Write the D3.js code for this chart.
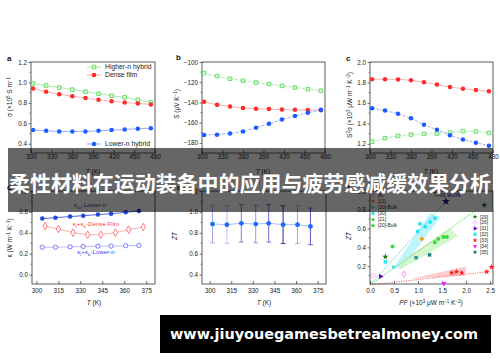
<!DOCTYPE html>
<html><head><meta charset="utf-8">
<script src="https://cdn.jsdelivr.net/npm/d3@7"></script>
<style>body{margin:0;background:#fff}svg{display:block}</style>
</head><body><svg id="c" width="500" height="362"></svg>
<script>
// ---------- data ----------
const tempsTop = [303,322,341,360,379,398,417,436,455,474];
const sigmaHigher = [0.99,0.97,0.95,0.93,0.91,0.89,0.87,0.855,0.83,0.805];
const sigmaDense = [0.94,0.91,0.885,0.865,0.848,0.83,0.815,0.805,0.795,0.785];
const sigmaLower = [0.534,0.527,0.52,0.52,0.52,0.527,0.534,0.54,0.547,0.553];
const seebeckHigher = [-111,-114,-116.5,-118.5,-120.3,-121.7,-123.6,-125.2,-126.9,-128.3];
const seebeckDense = [-139.4,-142.4,-144,-145.6,-146.3,-146.6,-147,-147.3,-147.6,-147.6];
const seebeckLower = [-172.2,-171.9,-170.6,-168.7,-165,-161.1,-156.8,-153.5,-150.2,-147.3];
const pfHigher = [1.221,1.254,1.277,1.29,1.297,1.3,1.31,1.324,1.32,1.307];
const pfDense = [1.832,1.832,1.829,1.822,1.802,1.779,1.755,1.739,1.726,1.713];
const pfLower = [1.548,1.525,1.495,1.449,1.386,1.337,1.284,1.241,1.211,1.181];

const tempsKappa = [304,313,323,332,342,351,361,370];
const tempsKappaDense = [306,315,325,335,344,354,363,373];
const kappaLat = [0.536,0.545,0.555,0.564,0.574,0.583,0.596,0.609];
const kappaDense = [0.464,0.436,0.401,0.382,0.382,0.401,0.43,0.455];
const kappaLower = [0.262,0.262,0.266,0.269,0.272,0.272,0.276,0.279];

const tempsZT = [302,312,322,332,341,351,361,370];
const ztValues = [0.884,0.878,0.891,0.884,0.891,0.878,0.878,0.861];
const ztErrors = [0.18,0.18,0.18,0.18,0.18,0.18,0.18,0.175];

const refLabels = ['[4]','[8]','[11]','[30]-Bulk','[30]','[21]','[20]-Bulk','[29]','[26]','[31]','[32]','[33]','[34]','[35]'];
const refPF = [[0.96],[0.71],[1.08],[0.49],[0.32,0.99,1.04,1.15,1.25,1.35],[0.47,1.35,1.42,1.53,1.6],[],[0.32,2.38],[0.07],[0.22],[],[1.7,1.8,1.91,2.43,2.53],[1.54],[1.24]];
const refZT = [[0.29],[0.115],[0.49],[0.19],[0.245,0.57,0.65,0.62,0.67,0.71],[0.41,0.455,0.49,0.51,0.51],[],[0.30,0.85],[0.10],[0.09],[],[0.13,0.14,0.13,0.14,0.19],[0.015],[0.32]];
const thisWorkPF = [1.58];
const thisWorkZT = [0.89];
const bandCyan = [[0.5,0.19],[0.66,0.17],[1.46,0.72],[1.25,0.76]];
const bandGreen = [[0.59,0.23],[1.67,0.6],[1.84,0.52],[0.66,0.17]];
const bandRed = [[0.85,0.065],[2.01,0.2],[1.98,0.1]];
const trendCyan = [[0,0],[1.58,0.89]];
const trendGreen = [[0,0],[2.22,0.8]];
const trendRed = [[0,0],[2.45,0.14]];

const xTicksTop = [300,330,360,390,420,450,480];
const xTicksBottom = [300,315,330,345,360,375];
const xTicksPF = [0,0.5,1,1.5,2,2.5];
const yTicksA = [0.4,0.6,0.8,1.0,1.2];
const yTicksB = [-180,-160,-140,-120,-100];
const yTicksC = [1.2,1.4,1.6,1.8,2.0];
const yTicksD = [0.0,0.2,0.4,0.6,0.8];
const yTicksE = [0.4,0.6,0.8,1.0,1.2];
const yTicksF = [0.2,0.4,0.6,0.8,1.0];

const titleText = '柔性材料在运动装备中的应用与疲劳感减缓效果分析';
const watermarkText = 'www.jiuyouegamesbetrealmoney.com';

// ---------- styles ----------
const FONT = '"Liberation Sans", Arial, sans-serif';
const C_GREEN = '#3fd23f', C_GREEN_L = '#8fe88f';
const C_RED = '#ff2a2a', C_RED_L = '#ff9a9a';
const C_BLUE = '#1a5cff', C_BLUE_L = '#7d95ff';
const refColors = ['#1f9b9b','#ff66ff','#ff9900','#66ddee','#22e5f5','#33dd33','#22cc22','#1a7a1a','#ff88ff','#6a00d0','#00e5ff','#ff2222','#ff22ff','#1a8080'];
const refShapes = ['square','diamond','circle','square','square','circle','star','star','circleOpen','triR','star','star','triD','square'];
const errColors = ['#9a9ae4','#b8b8f0','#6f6fd0','#8c8cdc','#5a5ac6','#141490','#a0a0e6','#4646bc'];

const svg = d3.select('#c');

function scales(b){
  return {x: d3.scaleLinear().domain(b.xd).range([b.x0,b.x1]),
          y: d3.scaleLinear().domain(b.yd).range([b.y1,b.y0])};
}
function axes(b, s, xt, yt, xf, yf, pad){
  const g = svg.append('g');
  const ax = g.append('g').attr('transform',`translate(0,${b.y1})`)
    .call(d3.axisBottom(s.x).tickValues(xt).tickFormat(xf).tickSize(-3).tickPadding(pad));
  const ay = g.append('g').attr('transform',`translate(${b.x0},0)`)
    .call(d3.axisLeft(s.y).tickValues(yt).tickFormat(yf).tickSize(2.5).tickPadding(1.5));
  [ax,ay].forEach(a=>{
    a.select('.domain').remove();
    a.selectAll('line').attr('stroke','#333').attr('stroke-width',0.7);
    a.selectAll('text').attr('font-size','6.3px').attr('fill','#222').attr('font-family',FONT);
  });
  // minor y ticks
  const yd = s.y.domain(); const step = (yt[1]-yt[0])/2;
  const minors = d3.range(yt[0]-step, yd[1]+1e-9, step).filter(v=>v>=Math.min(...yd) && !yt.some(t=>Math.abs(t-v)<1e-9));
  g.selectAll('.mn').data(minors).join('line')
    .attr('x1',b.x0-1.5).attr('x2',b.x0).attr('y1',d=>s.y(d)).attr('y2',d=>s.y(d))
    .attr('stroke','#333').attr('stroke-width',0.6);
  g.append('rect').attr('x',b.x0).attr('y',b.y0).attr('width',b.x1-b.x0).attr('height',b.y1-b.y0)
    .attr('fill','none').attr('stroke','#333').attr('stroke-width',0.8);
}
function ytitle(x,y,parts){
  const t = svg.append('text').attr('transform',`translate(${x},${y}) rotate(-90)`)
    .attr('text-anchor','middle').attr('font-family',FONT).attr('font-size','6.5px').attr('fill','#222');
  parts.forEach(p=>{
    const ts = t.append('tspan').text(p[0]);
    if(p[1]==='sup') ts.attr('font-size','4.5px').attr('dy','-2.5');
    else if(p[1]==='back') ts.attr('dy','2.5');
    else if(p[1]==='it') ts.attr('font-style','italic');
  });
}
function xtitle(x,y,parts){
  const t = svg.append('text').attr('x',x).attr('y',y).attr('text-anchor','middle')
    .attr('font-family',FONT).attr('font-size','6.5px').attr('fill','#222');
  parts.forEach(p=>{
    const ts = t.append('tspan').text(p[0]);
    if(p[1]==='sup') ts.attr('font-size','4.5px').attr('dy','-2.5');
    else if(p[1]==='back') ts.attr('dy','2.5');
    else if(p[1]==='it') ts.attr('font-style','italic');
  });
}
function letter(x,y,t){
  svg.append('text').attr('x',x).attr('y',y).text(t).attr('font-family',FONT)
    .attr('font-weight','bold').attr('font-size','8px').attr('fill','#111');
}
function marker(g, type, color, size){
  const sym = {square:d3.symbolSquare, circle:d3.symbolCircle, star:d3.symbolStar,
    diamond:d3.symbolDiamond, circleOpen:d3.symbolCircle, triR:d3.symbolTriangle, triD:d3.symbolTriangle}[type];
  const p = g.append('path').attr('d', d3.symbol().type(sym).size(size)());
  if(type==='triR') p.attr('transform','rotate(90)');
  if(type==='triD') p.attr('transform','rotate(180)');
  return p;
}
function series(s, xs, ys, opt){
  const pts = xs.map((t,i)=>[t,ys[i]]);
  svg.append('path').datum(pts).attr('fill','none').attr('stroke',opt.line).attr('stroke-width',opt.lw||0.8)
    .attr('stroke-dasharray',opt.dash||null)
    .attr('d',d3.line().x(d=>s.x(d[0])).y(d=>s.y(d[1])));
  const g = svg.append('g');
  pts.forEach(d=>{
    const m = g.append('g').attr('transform',`translate(${s.x(d[0])},${s.y(d[1])})`);
    const p = marker(m, opt.shape, opt.color, opt.size||14);
    if(opt.open) p.attr('fill', opt.fillc||'#fff').attr('stroke',opt.color).attr('stroke-width',0.7);
    else p.attr('fill',opt.color);
  });
}
function legendItem(x,y,opt,label){
  svg.append('line').attr('x1',x).attr('x2',x+14).attr('y1',y).attr('y2',y).attr('stroke',opt.line).attr('stroke-width',0.9);
  const m = svg.append('g').attr('transform',`translate(${x+7},${y})`);
  const p = marker(m,opt.shape,opt.color,opt.size||14);
  if(opt.open) p.attr('fill',opt.fillc||'#fff').attr('stroke',opt.color).attr('stroke-width',0.7); else p.attr('fill',opt.color);
  svg.append('text').attr('x',x+18).attr('y',y+2.3).text(label).attr('font-family',FONT)
    .attr('font-size','6.8px').attr('fill','#222');
}

const sGreen = {line:C_GREEN_L, color:C_GREEN, shape:'square', open:true, fillc:'#d8f8d8', size:13};
const sRed = {line:C_RED_L, color:C_RED, shape:'circle', size:16};
const sBlue = {line:C_BLUE_L, color:C_BLUE, shape:'circle', size:16};

// ---------- panel a ----------
const bA = {x0:31,x1:155,y0:62,y1:153,xd:[300,480],yd:[0.31,1.2]};
const sA = scales(bA);
axes(bA,sA,xTicksTop,yTicksA,d3.format('d'),d3.format('.1f'),1.5);
series(sA,tempsTop,sigmaHigher,sGreen);
series(sA,tempsTop,sigmaDense,sRed);
series(sA,tempsTop,sigmaLower,sBlue);
legendItem(87,67,sGreen,'Higher-n hybrid');
legendItem(87,75,sRed,'Dense film');
legendItem(87,144,sBlue,'Lower-n hybrid');
letter(7,61,'a');
ytitle(12,97,[['σ (×10'],['5','sup'],[' S m','back'],['−1','sup']]);
xtitle(93,174,[['T','it'],[' (K)']]);

// ---------- panel b ----------
const bB = {x0:202,x1:325,y0:62,y1:153,xd:[300,480],yd:[-190,-100]};
const sB = scales(bB);
axes(bB,sB,xTicksTop,yTicksB,d3.format('d'),d3.format('d'),1.5);
series(sB,tempsTop,seebeckHigher,Object.assign({},sGreen,{dash:'3,1.5'}));
series(sB,tempsTop,seebeckDense,sRed);
series(sB,tempsTop,seebeckLower,Object.assign({},sBlue,{dash:'3,1.5'}));
letter(176,60,'b');
ytitle(179,104,[['S','it'],[' (μV K'],['−1','sup'],[')','back']]);
xtitle(263,174,[['T','it'],[' (K)']]);

// ---------- panel c ----------
const bC = {x0:370,x1:493,y0:62,y1:153,xd:[300,480],yd:[1.11,2.0]};
const sC = scales(bC);
axes(bC,sC,xTicksTop,yTicksC,d3.format('d'),d3.format('.1f'),1.5);
series(sC,tempsTop,pfHigher,Object.assign({},sGreen,{dash:'3,1.5'}));
series(sC,tempsTop,pfDense,sRed);
series(sC,tempsTop,pfLower,Object.assign({},sBlue,{dash:'3,1.5'}));
letter(346,61,'c');
ytitle(352,105,[['S'],['2','sup'],['σ (×10','back'],['3','sup'],[' μW m','back'],['−1','sup'],[' K','back'],['−2','sup'],[')','back']]);
xtitle(431,174,[['T','it'],[' (K)']]);

// ---------- panel d ----------
const bD = {x0:32,x1:155,y0:191,y1:284,xd:[297,381],yd:[-0.09,0.8]};
const sD = scales(bD);
axes(bD,sD,xTicksBottom,yTicksD,d3.format('d'),d3.format('.1f'),5);
series(sD,tempsKappa,kappaLat,{line:'#2a3fc0',color:'#1f48e0',shape:'circle',size:16});
series(sD,tempsKappaDense,kappaDense,{line:C_RED_L,color:'#ff4040',shape:'diamond',open:true,size:16});
series(sD,tempsKappa,kappaLower,{line:'#a8a8ff',color:'#4444ff',shape:'circle',open:true,size:14});
function kLabel(x,y,color,parts){
  const t = svg.append('text').attr('x',x).attr('y',y).attr('text-anchor','middle')
    .attr('font-family',FONT).attr('font-size','6.2px').attr('fill',color);
  parts.forEach(p=>{const ts=t.append('tspan').text(p[0]);
    if(p[1]==='sub') ts.attr('font-size','4.3px').attr('dy','1.5');
    else if(p[1]==='back') ts.attr('dy','-1.5');});
}
kLabel(90,207,'#2a3fb0',[['κ'],['lat','sub'],['-Lower-n','back']]);
kLabel(96,226,'#ff4040',[['κ'],['l','sub'],['+κ','back'],['b','sub'],['-Dense Film','back']]);
kLabel(96,254,'#4444ff',[['κ'],['l','sub'],['+κ','back'],['b','sub'],['-Lower-n','back']]);
letter(7,190,'d');
ytitle(12,238,[['κ (W m'],['−1','sup'],[' K','back'],['−1','sup'],[')','back']]);
xtitle(94,305,[['T','it'],[' (K)']]);

// ---------- panel e ----------
const bE = {x0:202,x1:326,y0:191,y1:284,xd:[294.7,380.8],yd:[0.31,1.2]};
const sE = scales(bE);
axes(bE,sE,xTicksBottom,yTicksE,d3.format('d'),d3.format('.1f'),5);
const gErr = svg.append('g');
tempsZT.forEach((t,i)=>{
  const x = sE.x(t), yT = sE.y(ztValues[i]+ztErrors[i]), yB = sE.y(ztValues[i]-ztErrors[i]);
  gErr.append('line').attr('x1',x).attr('x2',x).attr('y1',yT).attr('y2',yB).attr('stroke',errColors[i]).attr('stroke-width',0.9);
  [yT,yB].forEach(yy=>gErr.append('line').attr('x1',x-2.5).attr('x2',x+2.5).attr('y1',yy).attr('y2',yy).attr('stroke',errColors[i]).attr('stroke-width',0.8));
});
series(sE,tempsZT,ztValues,{line:'#8fb0ff',color:'#1a6cff',shape:'circle',size:18});
letter(177,190,'e');
ytitle(177,236,[['ZT','it']]);
xtitle(264,305,[['T','it'],[' (K)']]);

// ---------- panel f ----------
const bF = {x0:370,x1:493,y0:191,y1:284,xd:[0,2.56],yd:[0.01,1.0]};
const sF = scales(bF);
const polyLine = d3.line().x(d=>sF.x(d[0])).y(d=>sF.y(d[1]));
svg.append('path').datum(bandCyan).attr('d',polyLine.curve(d3.curveLinearClosed)).attr('fill','#aef3fb').attr('opacity',0.8);
svg.append('path').datum(bandGreen).attr('d',polyLine.curve(d3.curveLinearClosed)).attr('fill','#c9f5c0').attr('opacity',0.8);
svg.append('path').datum(bandRed).attr('d',polyLine.curve(d3.curveLinearClosed)).attr('fill','#ffc4c4').attr('opacity',0.85);
const lineF = d3.line().x(d=>sF.x(d[0])).y(d=>sF.y(d[1]));
[[trendCyan,'#22b8c8'],[trendGreen,'#33cc33'],[trendRed,'#ff4444']].forEach(([d,c])=>{
  svg.append('path').datum(d).attr('d',lineF).attr('stroke',c).attr('stroke-width',0.8).attr('stroke-dasharray','1.2,1.2').attr('fill','none');
});
axes(bF,sF,xTicksPF,yTicksF,d3.format('.1f'),d3.format('.1f'),5);
const gF = svg.append('g');
refLabels.forEach((lab,i)=>{
  refPF[i].forEach((pf,j)=>{
    const m = gF.append('g').attr('transform',`translate(${sF.x(pf)},${sF.y(refZT[i][j])})`);
    const p = marker(m,refShapes[i],refColors[i],12);
    if(refShapes[i]==='circleOpen'||refShapes[i]==='diamond') p.attr('fill','none').attr('stroke',refColors[i]).attr('stroke-width',0.7);
    else p.attr('fill',refColors[i]);
  });
});
thisWorkPF.forEach((pf,i)=>{
  const m = gF.append('g').attr('transform',`translate(${sF.x(pf)},${sF.y(thisWorkZT[i])})`);
  marker(m,'star','#1a1a80',22).attr('fill','#1a1a80');
});
svg.append('text').attr('x',sF.x(thisWorkPF[0])+1).attr('y',197).attr('text-anchor','middle').text('This work')
  .attr('font-family',FONT).attr('font-size','6.5px').attr('fill','#1a1a80');
// legends (two columns)
refLabels.forEach((lab,i)=>{
  const left = i<7;
  const x = left ? 373 : 475;
  const y = left ? 189+ i*6.1 : 216.7 + (i-7)*5.9;
  const m = svg.append('g').attr('transform',`translate(${x},${y})`);
  const p = marker(m,refShapes[i],refColors[i],8);
  if(refShapes[i]==='circleOpen'||refShapes[i]==='diamond') p.attr('fill','none').attr('stroke',refColors[i]).attr('stroke-width',0.6);
  else p.attr('fill',refColors[i]);
  svg.append('text').attr('x',x+5).attr('y',y+1.8).text(lab).attr('font-family',FONT).attr('font-size','4.8px').attr('fill','#222');
});
letter(347,190,'f');
ytitle(351,236,[['ZT','it']]);
xtitle(431,305,[['PF','it'],[' (×10'],['3','sup'],[' μW m','back'],['−1','sup'],[' K','back'],['−2','sup'],[')','back']]);

// ---------- overlays ----------
svg.append('rect').attr('x',8).attr('y',148).attr('width',485).attr('height',64).attr('fill','rgba(0,0,0,0.6)');
svg.append('text').attr('x',250).attr('y',191).attr('text-anchor','middle').text(titleText)
  .attr('font-family','"Noto Sans CJK SC", sans-serif').attr('font-weight','bold').attr('font-size','21px')
  .attr('fill','#fff').attr('textLength',482).attr('lengthAdjust','spacingAndGlyphs');
svg.append('rect').attr('x',160).attr('y',315).attr('width',331).attr('height',38).attr('fill','#000');
svg.append('text').attr('x',324).attr('y',339).attr('text-anchor','middle').text(watermarkText)
  .attr('font-family','"DejaVu Sans", Verdana, sans-serif').attr('font-weight','bold').attr('font-size','14px')
  .attr('fill','#fff').attr('textLength',308).attr('lengthAdjust','spacingAndGlyphs');
</script></body></html>
